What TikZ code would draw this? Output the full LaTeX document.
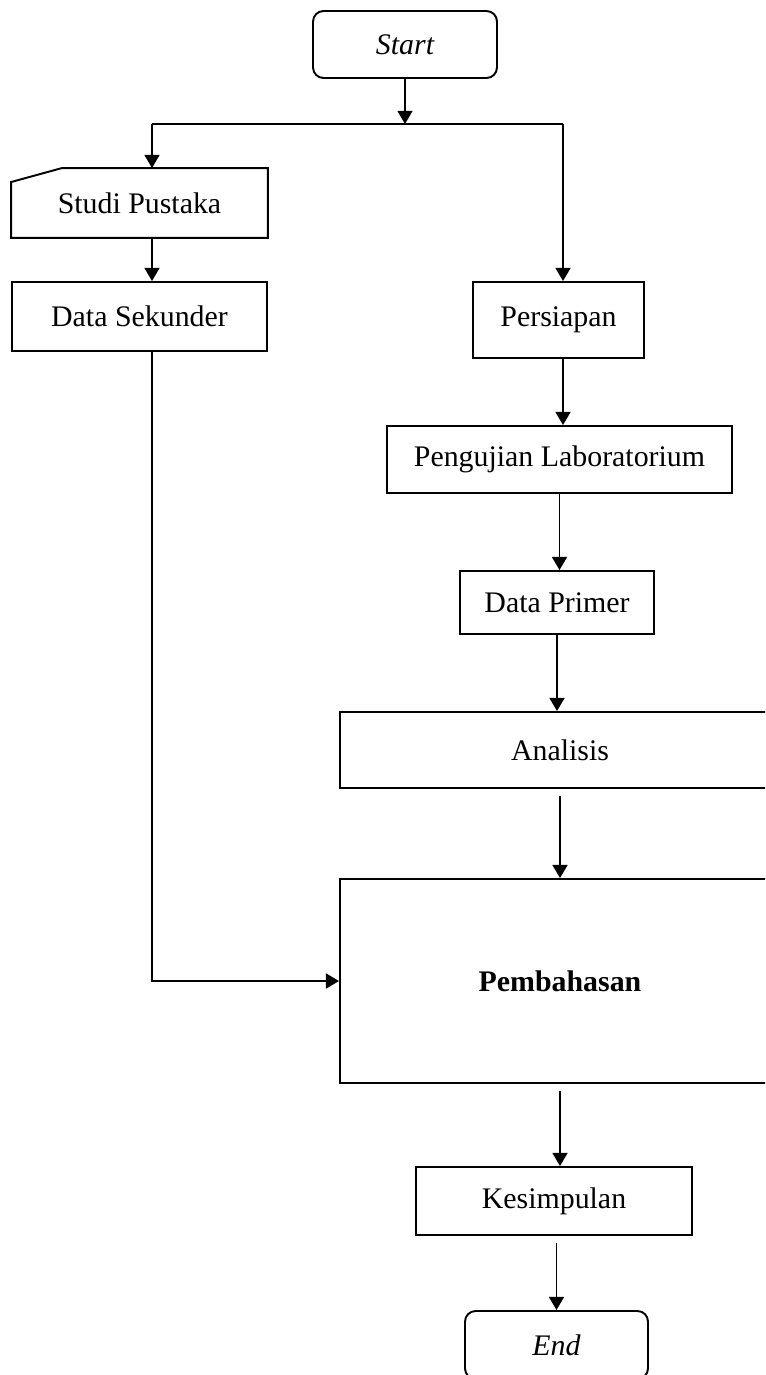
\documentclass[tikz,border=0pt]{standalone}
\usepackage{fontspec}
\setmainfont{Liberation Serif}
\usepackage{tikz}
\usetikzlibrary{arrows.meta}

\begin{document}
\begin{tikzpicture}[
    x=0.02cm, y=-0.02cm,
    font=\fontsize{17}{20}\selectfont,
    box/.style={
        rectangle, draw, line width=1.1pt, inner sep=0pt, align=center
    },
    termBox/.style={box, rounded corners=6pt},
    cardBox/.style={box, draw=none},
    arrow/.style={-{Triangle[length=7.5pt,width=8.5pt]}, line width=1.1pt},
    link/.style={line width=1.1pt},
    gap/.style={shorten <=4pt}
]

    \useasboundingbox (0,0) rectangle (765,1375);
    \clip (0,0) rectangle (765,1375);

    \node[termBox, minimum width=3.68cm, minimum height=1.34cm] (start) at (405,44.5) {\itshape Start};

    \coordinate (fork) at (405,124);
    \coordinate (forkL) at (152,124);
    \coordinate (forkR) at (563,124);

    \node[cardBox, minimum width=5.1cm, minimum height=1.36cm] (studi) at (139.5,203) {Studi Pustaka};
    \draw[link] (studi.south west) -- (studi.south east) -- (studi.north east)
        -- ([xshift=1.02cm]studi.north west) -- ([yshift=-0.28cm]studi.north west) -- cycle;

    \node[box, minimum width=5.1cm, minimum height=1.38cm] (datasek) at (139.5,316.5) {Data Sekunder};

    \node[box, minimum width=3.42cm, minimum height=1.52cm] (persiapan) at (558.5,320) {Persiapan};
    \node[box, minimum width=6.9cm, minimum height=1.34cm] (pengujian) at (559.5,459.5) {Pengujian Laboratorium};
    \node[box, minimum width=3.88cm, minimum height=1.26cm] (dataprimer) at (557,602.5) {Data Primer};
    \node[box, minimum width=8.8cm, minimum height=1.52cm] (analisis) at (560,750) {Analisis};
    \node[box, minimum width=8.8cm, minimum height=4.08cm] (pembahasan) at (560,981) {\bfseries Pembahasan};
    \node[box, minimum width=5.52cm, minimum height=1.36cm] (kesimpulan) at (554,1201) {Kesimpulan};
    \node[termBox, minimum width=3.66cm, minimum height=1.36cm] (end) at (556.5,1345) {\itshape End};

    \draw[arrow] (start.south) -- (fork);
    \draw[link] (forkL) -- (forkR);
    \draw[arrow] (forkL) -- (forkL |- studi.north);
    \draw[arrow] (forkR) -- (forkR |- persiapan.north);

    \draw[arrow] (studi.south -| forkL) -- (datasek.north -| forkL);
    \draw[arrow] (persiapan.south -| forkR) -- (pengujian.north -| forkR);
    \draw[arrow] (pengujian.south) -- (pengujian.south |- dataprimer.north);
    \draw[arrow] (dataprimer.south) -- (dataprimer.south |- analisis.north);
    \draw[arrow, gap] (analisis.south) -- (pembahasan.north);
    \draw[arrow] (datasek.south -| forkL) |- (pembahasan.west);
    \draw[arrow, gap] (pembahasan.south) -- (pembahasan.south |- kesimpulan.north);
    \draw[arrow, gap] (end.north |- kesimpulan.south) -- (end.north);

\end{tikzpicture}
\end{document}
